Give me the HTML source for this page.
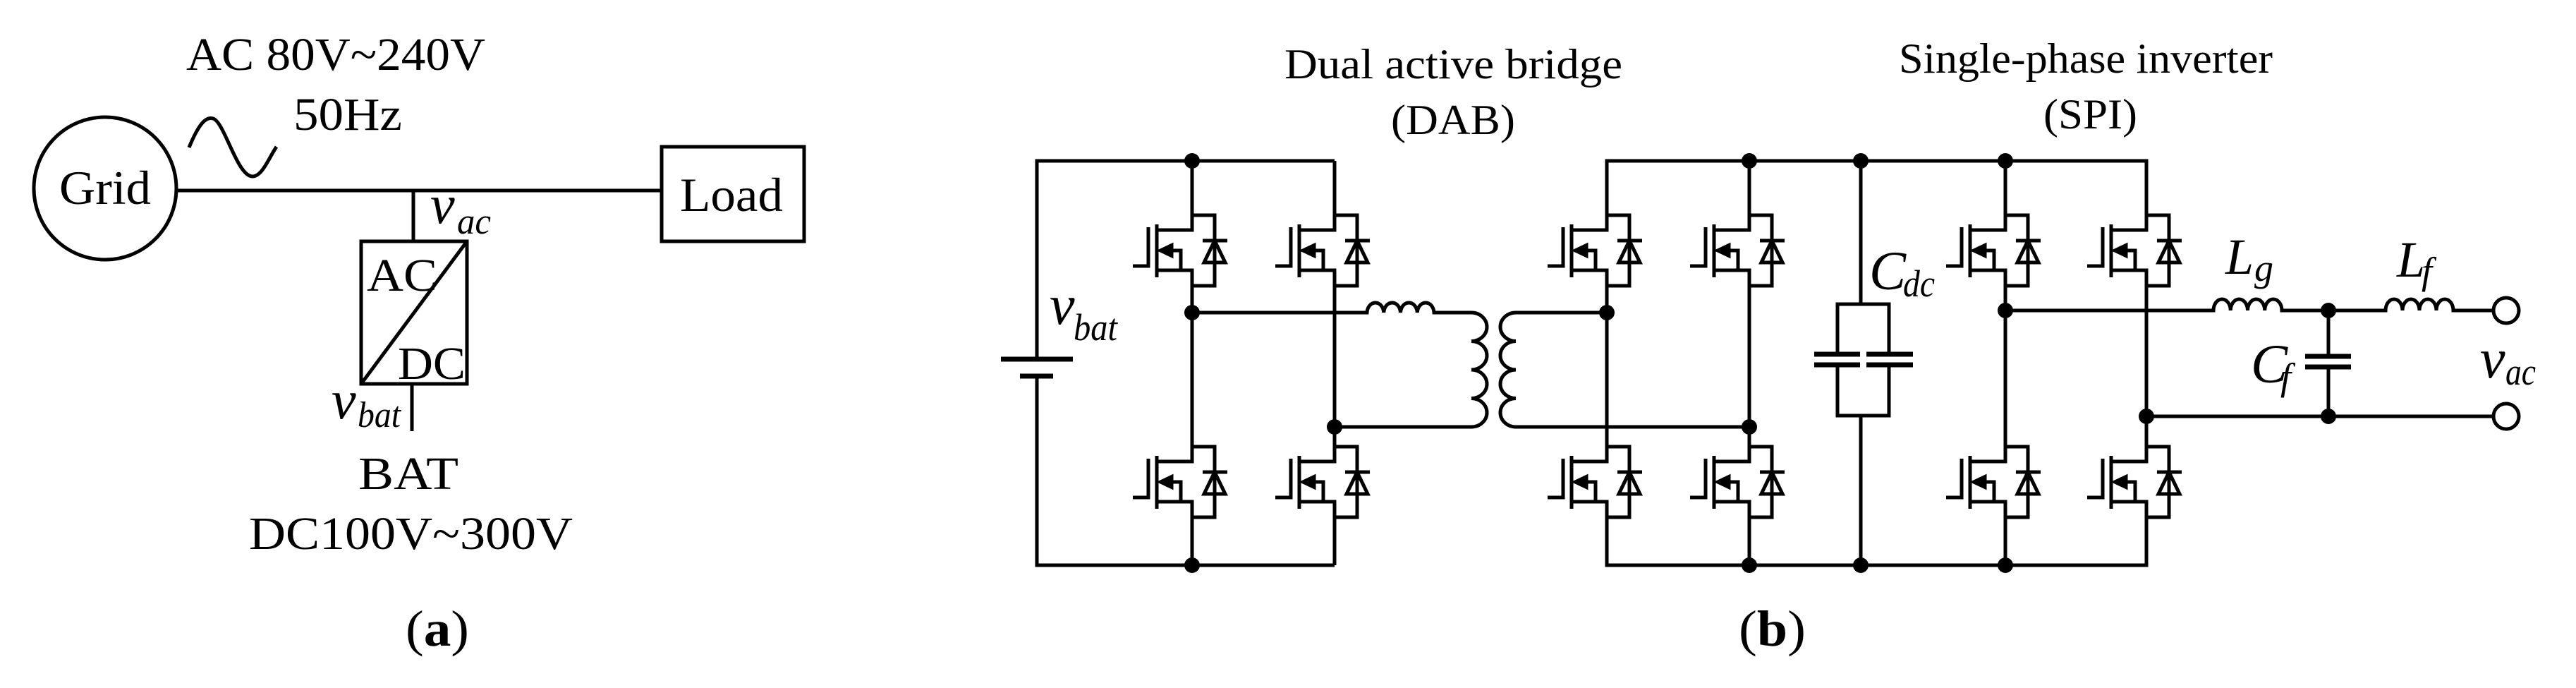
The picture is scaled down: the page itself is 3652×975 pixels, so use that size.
<!DOCTYPE html>
<html><head><meta charset="utf-8"><style>
html,body{margin:0;padding:0;background:#fff;}
svg{display:block;}
text{font-family:"Liberation Serif",serif;fill:#000;}
.i{font-style:italic;}
</style></head><body>
<svg width="3652" height="975" viewBox="0 0 3652 975" xmlns="http://www.w3.org/2000/svg">
<defs>
<g id="m" fill="none" stroke="#000" stroke-width="5">
<path d="M0,-50 H32 V50 H0"/>
<path d="M0,-50 V-29 H-50"/>
<path d="M-50,-37 V38"/>
<path d="M-50,28 H0 V50"/>
<path d="M-62,-33 V22 H-84"/>
<path d="M-28,0 H-16 V28"/>
<polygon points="-47,0 -28,-9 -28,9" fill="#000" stroke-width="3"/>
<path d="M15,-14 H50"/>
<polygon points="32,-14 17,17 47,17"/>
</g>
</defs>

<g fill="none" stroke="#000" stroke-width="5">
<circle cx="149" cy="267" r="101"/>
<path d="M250,270 H938"/>
<rect x="938" y="208" width="202" height="134"/>
<path d="M268,209 C282,175 292,165 302,168 C318,172 336,250 358,250 C372,250 382,222 392,208"/>
<path d="M586,270 V342"/>
<rect x="512" y="342" width="150" height="202"/>
<path d="M512,544 L662,342"/>
<path d="M584,544 V611"/>
</g>
<text x="264" y="99" font-size="66" textLength="424" lengthAdjust="spacingAndGlyphs">AC 80V~240V</text>
<text x="416" y="184" font-size="66" textLength="154" lengthAdjust="spacingAndGlyphs">50Hz</text>
<text x="84" y="289" font-size="68" textLength="130" lengthAdjust="spacingAndGlyphs">Grid</text>
<text x="964" y="299" font-size="68" textLength="146" lengthAdjust="spacingAndGlyphs">Load</text>
<text x="520" y="412" font-size="66" textLength="100" lengthAdjust="spacingAndGlyphs">AC</text>
<text x="564" y="537" font-size="66" textLength="96" lengthAdjust="spacingAndGlyphs">DC</text>
<text x="610" y="316" font-size="78" class="i">v</text>
<text x="648" y="331" font-size="52" class="i" textLength="48" lengthAdjust="spacingAndGlyphs">ac</text>
<text x="470" y="593" font-size="78" class="i">v</text>
<text x="507" y="605" font-size="52" class="i" textLength="61" lengthAdjust="spacingAndGlyphs">bat</text>
<text x="508" y="693" font-size="66" textLength="142" lengthAdjust="spacingAndGlyphs">BAT</text>
<text x="353" y="778" font-size="66" textLength="459" lengthAdjust="spacingAndGlyphs">DC100V~300V</text>
<text x="575" y="915" font-size="72" textLength="90" lengthAdjust="spacingAndGlyphs">(<tspan font-weight="bold">a</tspan>)</text>

<text x="1821" y="111" font-size="60" textLength="479" lengthAdjust="spacingAndGlyphs">Dual active bridge</text>
<text x="1972" y="190" font-size="60" textLength="176" lengthAdjust="spacingAndGlyphs">(DAB)</text>
<text x="2692" y="103" font-size="60" textLength="530" lengthAdjust="spacingAndGlyphs">Single-phase inverter</text>
<text x="2897" y="182" font-size="60" textLength="133" lengthAdjust="spacingAndGlyphs">(SPI)</text>
<text x="2465" y="915" font-size="72" textLength="95" lengthAdjust="spacingAndGlyphs">(<tspan font-weight="bold">b</tspan>)</text>

<g fill="none" stroke="#000" stroke-width="5">
<path d="M1892,228 H1470 V509"/>
<path d="M1470,533 V801 H1892"/>
<path d="M1419,509 H1521" stroke-width="7"/>
<path d="M1446,533 H1493" stroke-width="7"/>
<path d="M1690,228 V305 M1690,405 V633 M1690,733 V801"/>
<path d="M1892,228 V305 M1892,405 V633 M1892,733 V801"/>
<path d="M1690,443 H1938 a11.9,15 0 0 1 23.75,0 a11.9,15 0 0 1 23.75,0 a11.9,15 0 0 1 23.75,0 a11.9,15 0 0 1 23.75,0 H2086 a22,20.25 0 0 1 0,40.5 a22,20.25 0 0 1 0,40.5 a22,20.25 0 0 1 0,40.5 a22,20.25 0 0 1 0,40.5 H1892"/>
<path d="M2278,443 H2149 a22,20.25 0 0 0 0,40.5 a22,20.25 0 0 0 0,40.5 a22,20.25 0 0 0 0,40.5 a22,20.25 0 0 0 0,40.5 H2480"/>
<path d="M2278,305 V228 H3043 V305"/>
<path d="M2278,733 V801 H3043 V733"/>
<path d="M2278,405 V633"/>
<path d="M2480,228 V305 M2480,405 V633 M2480,733 V801"/>
<path d="M2843,228 V305 M2843,405 V633 M2843,733 V801"/>
<path d="M3043,405 V633"/>
<path d="M2638,228 V431 M2605,502 V431 H2678 V502 M2605,517 V589 H2678 V517 M2638,589 V801"/>
<path d="M2572,502 H2637 M2646,502 H2712 M2572,517 H2637 M2646,517 H2712" stroke-width="7"/>
<path d="M2843,440 H3138 a12.1,16 0 0 1 24.25,0 a12.1,16 0 0 1 24.25,0 a12.1,16 0 0 1 24.25,0 a12.1,16 0 0 1 24.25,0 H3382 a12,16 0 0 1 24,0 a12,16 0 0 1 24,0 a12,16 0 0 1 24,0 a12,16 0 0 1 24,0 H3535"/>
<path d="M3043,590 H3535"/>
<path d="M3301,440 V505 M3301,520 V590"/>
<path d="M3268,505 H3333 M3268,520 H3333" stroke-width="7"/>
<circle cx="3553" cy="440" r="18"/>
<circle cx="3553" cy="590" r="18"/>
</g>

<use href="#m" x="1690" y="355"/><use href="#m" x="1690" y="683"/>
<use href="#m" x="1892" y="355"/><use href="#m" x="1892" y="683"/>
<use href="#m" x="2278" y="355"/><use href="#m" x="2278" y="683"/>
<use href="#m" x="2480" y="355"/><use href="#m" x="2480" y="683"/>
<use href="#m" x="2843" y="355"/><use href="#m" x="2843" y="683"/>
<use href="#m" x="3043" y="355"/><use href="#m" x="3043" y="683"/>

<g fill="#000">
<circle cx="1690" cy="228" r="11"/><circle cx="1690" cy="801" r="11"/>
<circle cx="1690" cy="443" r="11"/><circle cx="1892" cy="605" r="11"/>
<circle cx="2278" cy="443" r="11"/><circle cx="2480" cy="605" r="11"/>
<circle cx="2480" cy="228" r="11"/><circle cx="2638" cy="228" r="11"/><circle cx="2843" cy="228" r="11"/>
<circle cx="2480" cy="801" r="11"/><circle cx="2638" cy="801" r="11"/><circle cx="2843" cy="801" r="11"/>
<circle cx="2843" cy="440" r="11"/><circle cx="3043" cy="590" r="11"/>
<circle cx="3301" cy="440" r="11"/><circle cx="3301" cy="590" r="11"/>
</g>

<text x="1488" y="459" font-size="80" class="i">v</text>
<text x="1522" y="482" font-size="54" class="i" textLength="62" lengthAdjust="spacingAndGlyphs">bat</text>
<text x="2650" y="410" font-size="78" class="i">C</text>
<text x="2698" y="420" font-size="54" class="i" textLength="45" lengthAdjust="spacingAndGlyphs">dc</text>
<text x="3155" y="388" font-size="72" class="i">L</text>
<text x="3196" y="398" font-size="54" class="i">g</text>
<text x="3398" y="392" font-size="72" class="i">L</text>
<text x="3433" y="402" font-size="54" class="i">f</text>
<text x="3191" y="542" font-size="78" class="i">C</text>
<text x="3233" y="552" font-size="54" class="i">f</text>
<text x="3516" y="535" font-size="80" class="i">v</text>
<text x="3552" y="545" font-size="54" class="i" textLength="43" lengthAdjust="spacingAndGlyphs">ac</text>
</svg>
</body></html>
